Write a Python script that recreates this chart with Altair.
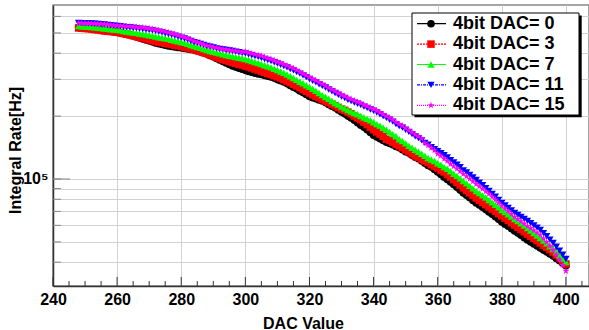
import altair as alt
import pandas as pd

# ---------------- data (rates in kHz) ----------------
dac_values = list(range(248, 401))

rate_dac0_khz = [
    531, 529, 528, 527, 525, 522, 519, 517, 514, 511, 508, 505, 503, 499, 496, 492,
    489, 483, 478, 473, 468, 463, 458, 453, 448, 444, 440, 437, 433, 431, 428, 426,
    424, 421, 419, 417, 414, 410, 405, 401, 396, 390, 384, 377, 371, 365, 359, 353,
    347, 343, 339, 335, 331, 327, 324, 321, 318, 316, 313, 310, 308, 304, 299, 295,
    291, 286, 280, 275, 270, 264, 259, 254, 248, 245, 242, 239, 236, 232, 227, 223,
    219, 214, 209, 205, 200, 196, 191, 186, 181, 177, 172, 167, 162, 159, 156, 153,
    150, 148, 146, 143, 141, 138, 135, 133, 130, 127, 125, 122, 119, 116, 114, 111,
    108, 105, 102, 99.5, 96.7, 94.0, 91.2, 88.5, 85.7, 83.5, 81.3, 79.0,
    76.8, 75.0, 73.2, 71.4, 69.6, 67.8, 66.0, 64.1, 62.3, 60.8, 59.4, 57.9,
    56.4, 55.1, 53.8, 52.4, 51.1, 50.0, 48.9, 47.8, 46.7, 45.7, 44.8, 43.8,
    42.8, 41.7, 40.6, 39.5, 38.4]

rate_dac3_khz = [
    528, 527, 525, 524, 522, 519, 517, 514, 511, 509, 508, 507, 505, 501, 497, 493,
    489, 485, 481, 477, 473, 468, 464, 459, 455, 452, 449, 446, 443, 440, 437, 434,
    431, 427, 424, 420, 417, 412, 408, 403, 399, 393, 388, 383, 377, 373, 369, 365,
    361, 358, 354, 351, 347, 344, 340, 336, 332, 328, 324, 320, 316, 312, 308, 304,
    299, 294, 289, 284, 279, 274, 268, 263, 258, 253, 249, 245, 240, 236, 232, 228,
    224, 220, 216, 213, 209, 205, 200, 196, 192, 187, 182, 177, 172, 168, 164, 160,
    155, 153, 150, 147, 144, 141, 138, 135, 132, 129, 127, 124, 122, 120, 117, 115,
    113, 110, 108, 105, 102.2, 99.3, 96.4, 93.5, 90.6, 88.2, 85.9, 83.5,
    81.1, 79.2, 77.3, 75.4, 73.5, 71.8, 70.1, 68.3, 66.6, 65.0, 63.4, 61.8,
    60.2, 58.8, 57.4, 55.9, 54.5, 53.2, 52.0, 50.7, 49.4, 48.2, 47.1, 45.9,
    44.7, 43.3, 42.0, 40.6, 39.2]

rate_dac7_khz = [
    540, 538, 537, 535, 534, 532, 529, 527, 525, 523, 521, 519, 517, 514, 511, 508,
    505, 502, 500, 497, 494, 491, 487, 484, 481, 477, 474, 471, 468, 464, 460, 456,
    452, 448, 443, 438, 433, 428, 424, 419, 414, 410, 406, 403, 399, 395, 392, 389,
    386, 383, 380, 378, 375, 371, 367, 363, 359, 355, 350, 346, 342, 337, 332, 327,
    322, 316, 310, 304, 298, 292, 287, 281, 276, 270, 264, 258, 252, 247, 242, 236,
    231, 227, 222, 218, 214, 210, 207, 204, 200, 197, 194, 191, 187, 183, 180, 176,
    172, 168, 164, 160, 155, 152, 148, 144, 141, 138, 135, 132, 129, 126, 124, 122,
    119, 117, 114, 112, 109, 106, 103.5, 100.7, 97.8, 95.3, 92.7, 90.2,
    87.6, 85.6, 83.5, 81.5, 79.4, 77.3, 75.3, 73.2, 71.1, 69.4, 67.8, 66.1,
    64.4, 62.9, 61.3, 59.8, 58.2, 56.7, 55.2, 53.7, 52.2, 50.7, 49.2, 47.7,
    46.2, 44.7, 43.2, 41.6, 40.1]

rate_dac11_khz = [
    558, 557, 556, 556, 555, 553, 552, 550, 549, 546, 544, 542, 540, 538, 535, 533,
    531, 529, 527, 524, 522, 519, 517, 514, 511, 507, 503, 498, 494, 490, 485, 480,
    475, 470, 464, 458, 452, 448, 443, 438, 433, 430, 426, 422, 419, 417, 414, 412,
    410, 407, 404, 401, 399, 395, 391, 387, 384, 380, 375, 371, 367, 362, 357, 352,
    347, 342, 336, 331, 325, 319, 313, 307, 301, 295, 290, 284, 279, 274, 268, 263,
    258, 253, 248, 244, 239, 236, 232, 229, 226, 222, 219, 215, 212, 208, 204, 200,
    196, 192, 188, 183, 179, 176, 172, 168, 164, 160, 157, 153, 149, 146, 142, 139,
    136, 133, 130, 127, 123, 120, 117, 114, 110, 107.5, 104.7, 101.8,
    98.9, 96.1, 93.3, 90.4, 87.6, 84.9, 82.2, 79.5, 76.8, 74.8, 72.8, 70.8,
    68.8, 67.4, 65.9, 64.5, 63.0, 61.5, 60.0, 58.5, 57.0, 55.1, 53.2, 51.3,
    49.4, 47.4, 45.4, 43.4, 41.4]

rate_dac15_khz = [
    558, 557, 556, 556, 555, 554, 553, 552, 552, 549, 547, 545, 543, 541, 540, 538,
    537, 535, 534, 532, 531, 528, 525, 522, 519, 515, 511, 507, 503, 498, 493, 488,
    483, 477, 470, 464, 457, 452, 446, 441, 435, 432, 428, 425, 421, 419, 417, 414,
    412, 410, 408, 405, 407, 403, 399, 395, 392, 388, 383, 378, 374, 369, 364, 359,
    354, 349, 343, 338, 332, 325, 319, 313, 307, 301, 296, 290, 285, 279, 273, 268,
    263, 258, 253, 249, 244, 241, 237, 234, 231, 226, 223, 219, 216, 212, 208, 204,
    200, 196, 192, 187, 183, 180, 175, 171, 167, 163, 160, 156, 149, 145, 141, 137,
    132, 129, 125, 122, 118, 115, 112, 108.7, 105.6, 102.9, 100.1, 97.4,
    94.6, 92.2, 89.7, 87.3, 84.8, 82.2, 79.6, 76.9, 74.3, 72.2, 70.1, 67.9,
    65.8, 64.2, 62.7, 61.1, 59.5, 58.1, 56.8, 55.4, 54.0, 51.9, 49.9, 47.8,
    45.7, 43.4, 41.0, 38.7, 36.3]

series_labels = ["4bit DAC= 0", "4bit DAC= 3", "4bit DAC= 7", "4bit DAC= 11", "4bit DAC= 15"]
series_rates = [rate_dac0_khz, rate_dac3_khz, rate_dac7_khz, rate_dac11_khz, rate_dac15_khz]

x_label_values = [240, 260, 280, 300, 320, 340, 360, 380, 400]
x_minor_values = [v for v in range(245, 406, 5) if v % 20 != 0]
y_grid_values = [40000, 50000, 60000, 70000, 80000, 90000, 100000,
                 200000, 300000, 400000, 500000, 600000]
y_major_values = [100000]

# ---------------- styles ----------------
series_colors = ["#000000", "#ff0000", "#00ff00", "#0000ff", "#ff00ff"]
star = ("M0,-1L0.235,-0.324L0.951,-0.309L0.380,0.124L0.588,0.809L0,0.4"
        "L-0.588,0.809L-0.380,0.124L-0.951,-0.309L-0.235,-0.324Z")
series_shapes = ["circle", "square", "triangle-up", "triangle-down", star]
series_sizes = [58, 52, 66, 66, 115]
series_dashes = [[1, 0], [2, 1], [1, 0], [3, 1, 1, 1], [1, 1]]
FONT = "Liberation Sans"

rows = []
for lab, vals in zip(series_labels, series_rates):
    for x, v in zip(dac_values, vals):
        rows.append({"dac": x, "rate": v * 1000.0, "series": lab})
df = pd.DataFrame(rows)

color_scale = alt.Scale(domain=series_labels, range=series_colors)
shape_scale = alt.Scale(domain=series_labels, range=series_shapes)
size_scale = alt.Scale(domain=series_labels, range=series_sizes)
dash_scale = alt.Scale(domain=series_labels, range=series_dashes)

x_scale = alt.Scale(domain=[240, 407.2], nice=False, zero=False)
y_scale = alt.Scale(type="log", domain=[30760, 680000], nice=False)

x_axis = alt.Axis(values=x_label_values, grid=True, gridColor="#d2d2d2", gridWidth=1,
                  ticks=False, domainColor="#333333", domainWidth=1.5,
                  labelFont=FONT, labelFontSize=16, labelFontWeight="bold", labelColor="black",
                  labelPadding=5, labelFlush=False, labelOverlap=False,
                  title="DAC Value", titleFont=FONT, titleFontSize=16, titleFontWeight="bold",
                  titleColor="black", titleX=250, titleY=42, titleAlign="center",
                  titleBaseline="alphabetic")

y_axis = alt.Axis(values=y_grid_values, grid=True, gridColor="#d2d2d2", gridWidth=1,
                  ticks=False, domainColor="#333333", domainWidth=1.5,
                  labelExpr="datum.value == 100000 ? '10⁵' : ''",
                  labelFont=FONT, labelFontSize=16, labelFontWeight="bold", labelColor="black",
                  labelPadding=5, labelOverlap=False,
                  title="Integral Rate[Hz]", titleFont=FONT, titleFontSize=16,
                  titleFontWeight="bold", titleColor="black", titleX=-38, titleY=145,
                  titleAlign="center", titleBaseline="middle", titleAngle=270)

points = alt.Chart(df).mark_point(filled=True, opacity=1).encode(
    x=alt.X("dac:Q", scale=x_scale, axis=x_axis),
    y=alt.Y("rate:Q", scale=y_scale, axis=y_axis),
    color=alt.Color("series:N", scale=color_scale, legend=None),
    shape=alt.Shape("series:N", scale=shape_scale, legend=None),
    size=alt.Size("series:N", scale=size_scale, legend=None),
)

# inward tick marks (ROOT style); same fields and axes as the data layer
xmaj = alt.Chart(pd.DataFrame({"dac": x_label_values})).mark_rule(color="#333333", strokeWidth=1).encode(
    x=alt.X("dac:Q", scale=x_scale, axis=x_axis), y=alt.value(281), y2=alt.value(272))
xmin = alt.Chart(pd.DataFrame({"dac": x_minor_values})).mark_rule(color="#333333", strokeWidth=1).encode(
    x=alt.X("dac:Q", scale=x_scale, axis=x_axis), y=alt.value(281), y2=alt.value(276))
ymaj = alt.Chart(pd.DataFrame({"rate": y_major_values})).mark_rule(color="#888888", strokeWidth=1).encode(
    y=alt.Y("rate:Q", scale=y_scale, axis=y_axis), x=alt.value(0), x2=alt.value(17))
ymin = alt.Chart(pd.DataFrame({"rate": y_grid_values})).mark_rule(color="#888888", strokeWidth=1).encode(
    y=alt.Y("rate:Q", scale=y_scale, axis=y_axis), x=alt.value(0), x2=alt.value(8))

main = alt.layer(points, xmin, xmaj, ymin, ymaj)

# legend box (drawn with marks, ROOT style with shadow)
leg_df = pd.DataFrame({"series": series_labels, "row": list(range(len(series_labels)))})
one = pd.DataFrame({"k": [0]})
leg_y = alt.Y("row:Q", scale=alt.Scale(domain=[0, len(series_labels) - 1], range=[18.7, 100.3],
                                       nice=False, zero=False), axis=None)

shadow = alt.Chart(one).mark_rect(color="black").encode(
    x=alt.value(361.5), x2=alt.value(528.7), y=alt.value(10.5), y2=alt.value(112.3))
box = alt.Chart(one).mark_rect(fill="white", stroke="black", strokeWidth=1).encode(
    x=alt.value(359), x2=alt.value(526), y=alt.value(8), y2=alt.value(110))
leg_lines = alt.Chart(leg_df).mark_rule(strokeWidth=1.2).encode(
    x=alt.value(364), x2=alt.value(393), y=leg_y,
    color=alt.Color("series:N", scale=color_scale, legend=None),
    strokeDash=alt.StrokeDash("series:N", scale=dash_scale, legend=None))
leg_pts = alt.Chart(leg_df).mark_point(filled=True, opacity=1).encode(
    x=alt.value(378), y=leg_y,
    color=alt.Color("series:N", scale=color_scale, legend=None),
    shape=alt.Shape("series:N", scale=shape_scale, legend=None),
    size=alt.Size("series:N", scale=size_scale, legend=None))
leg_txt = alt.Chart(leg_df).mark_text(align="left", baseline="middle", font=FONT,
                                      fontSize=18, fontWeight="bold", color="black").encode(
    x=alt.value(400), y=leg_y, text="series:N")

legend = alt.layer(shadow, box, leg_lines, leg_pts, leg_txt)

chart = alt.layer(main, legend).resolve_scale(y="independent").properties(
    width=536, height=281,
    padding={"left": 53, "top": 5, "right": 0, "bottom": 44},
    autosize=alt.AutoSizeParams(type="none"),
    background="white",
).configure_view(stroke="#888888", strokeWidth=1.5)

chart.save("out.html", embed_options={"renderer": "svg", "actions": False})
